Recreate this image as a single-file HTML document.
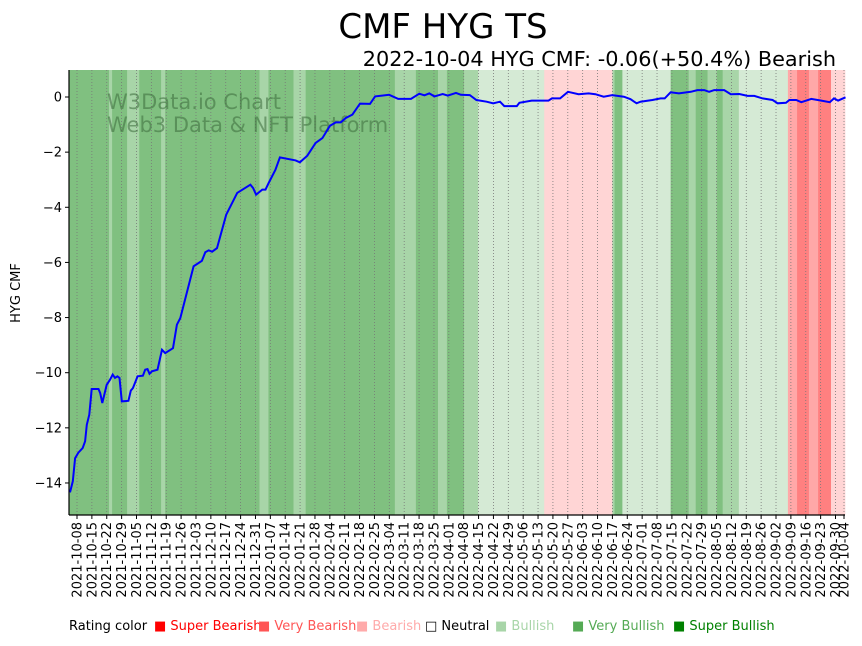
<!DOCTYPE html>
<html><head><meta charset="utf-8"><style>
body{margin:0;background:#fff;width:862px;height:641px;overflow:hidden;font-family:"Liberation Sans","DejaVu Sans",sans-serif}
svg text{font-family:"DejaVu Sans","Liberation Sans",sans-serif}
</style></head><body>
<svg id="chart" width="862" height="641" xmlns="http://www.w3.org/2000/svg">
<text x="443" y="38" font-size="34" text-anchor="middle">CMF HYG TS</text>
<text x="836" y="66" font-size="20.8" text-anchor="end">2022-10-04 HYG CMF: -0.06(+50.4%) Bearish</text>
<g id="bands"></g>
<g id="grid"></g>
<text x="107" y="109" font-size="21" fill="#3a6a3a" fill-opacity="0.55">W3Data.io Chart</text>
<text x="107" y="132" font-size="21" fill="#3a6a3a" fill-opacity="0.55">Web3 Data &amp; NFT Platform</text>
<path id="line" fill="none" stroke="#0000ff" stroke-width="2"/>
<g id="axes"></g>
<text transform="translate(20,293) rotate(-90)" font-size="13" text-anchor="middle">HYG CMF</text>
<g font-size="13">
<text x="69" y="630">Rating color</text>
<text x="154" y="630" fill="#ff0000">■ Super Bearish</text>
<text x="258" y="630" fill="#ff5555">■ Very Bearish</text>
<text x="356" y="630" fill="#ffaaaa">■ Bearish</text>
<text x="425" y="630" fill="#000">□ Neutral</text>
<text x="495" y="630" fill="#a8d5a8">■ Bullish</text>
<text x="572" y="630" fill="#55aa55">■ Very Bullish</text>
<text x="673" y="630" fill="#008000">■ Super Bullish</text>
</g>
</svg>
<script>
const days=[-3.3,-2.0,-0.9,0.6,2.7,3.8,4.6,5.8,6.9,10.1,10.9,11.9,14,15.6,16.8,17.9,19,20,21.1,24.2,25.3,26.3,28.5,31,32.1,33.2,34.1,35.3,37.9,40,41.5,45.2,47,48.6,54.9,58.8,60.4,62,63.6,65.9,70.2,75.4,81.6,82.9,84.3,87.2,88.7,90.3,93.4,95.5,102.9,104.9,108.4,112.3,115.5,119.1,121.8,124.1,126.5,129.6,133.2,137.9,140.3,146.9,151.2,157.2,161.1,163.5,165.8,168.2,172.1,174.5,178.4,180.7,184.9,188,192.8,195.9,199.1,201.1,207,208.2,214,221.9,223.5,227.4,231.1,236.1,240.8,244,247.9,251.9,257.4,260.5,263.4,265.2,270.8,274.7,276.6,279.4,283.3,288.9,292,295.2,297.5,299.9,304.6,307.7,311.7,315.6,318.8,322.7,327.4,329.8,333.7,335.3,338.5,340.9,345.6,350.3,354.3,356.3,358.2,361.7];
const cmf=[-14.34,-13.94,-13.1,-12.9,-12.73,-12.49,-11.89,-11.52,-10.59,-10.59,-10.74,-11.1,-10.44,-10.25,-10.07,-10.19,-10.13,-10.19,-11.04,-11.02,-10.65,-10.56,-10.13,-10.11,-9.89,-9.87,-10.04,-9.95,-9.89,-9.17,-9.29,-9.11,-8.26,-8.02,-6.14,-5.94,-5.63,-5.56,-5.61,-5.48,-4.27,-3.48,-3.18,-3.30,-3.54,-3.36,-3.36,-3.10,-2.64,-2.19,-2.30,-2.37,-2.13,-1.67,-1.49,-1.04,-0.92,-0.92,-0.76,-0.64,-0.24,-0.25,0.02,0.08,-0.07,-0.07,0.12,0.06,0.13,0.02,0.11,0.05,0.15,0.08,0.07,-0.11,-0.17,-0.23,-0.17,-0.33,-0.33,-0.21,-0.13,-0.13,-0.05,-0.05,0.19,0.10,0.13,0.10,0.01,0.07,0.01,-0.08,-0.23,-0.17,-0.11,-0.05,-0.05,0.17,0.13,0.19,0.25,0.25,0.19,0.25,0.25,0.10,0.11,0.04,0.04,-0.05,-0.11,-0.23,-0.21,-0.11,-0.11,-0.19,-0.07,-0.13,-0.19,-0.05,-0.13,-0.01];
const bandEdges=[-3.8,15.1,16.5,23.6,29.3,39.6,41.5,85.9,90.1,101.9,107.6,149.6,159.5,169.9,174.1,182.2,188.8,219.9,252,253,256.7,279.4,287.9,291.2,296.8,301.1,303.9,311.5,334.6,338.9,344.5,348.8,354.9,362.4];
const bandRatings=[3,2,3,2,3,2,3,2,3,2,3,2,3,2,3,2,1,-1,2,3,1,3,2,3,2,3,2,1,-2,-3,-2,-3,-1];
const tickLabels=["2021-10-08","2021-10-15","2021-10-22","2021-10-29","2021-11-05","2021-11-12","2021-11-19","2021-11-26","2021-12-03","2021-12-10","2021-12-17","2021-12-24","2021-12-31","2022-01-07","2022-01-14","2022-01-21","2022-01-28","2022-02-04","2022-02-11","2022-02-18","2022-02-25","2022-03-04","2022-03-11","2022-03-18","2022-03-25","2022-04-01","2022-04-08","2022-04-15","2022-04-22","2022-04-29","2022-05-06","2022-05-13","2022-05-20","2022-05-27","2022-06-03","2022-06-10","2022-06-17","2022-06-24","2022-07-01","2022-07-08","2022-07-15","2022-07-22","2022-07-29","2022-08-05","2022-08-12","2022-08-19","2022-08-26","2022-09-02","2022-09-09","2022-09-16","2022-09-23","2022-09-30","2022-10-04"];
const yTicks=[0,-2,-4,-6,-8,-10,-12,-14];
const colors={"3":"#80c080","2":"#a8d5a8","1":"#d5ead5","-1":"#ffd5d5","-2":"#ffa8a8","-3":"#ff8080"};
const L=69,R=845,T=70,B=515;
const X=d=>77+d*(767/361);
const Y=v=>97-v*27.57;
const NS="http://www.w3.org/2000/svg";
function mk(tag,attrs,parent){const e=document.createElementNS(NS,tag);for(const k in attrs)e.setAttribute(k,attrs[k]);parent.appendChild(e);return e;}
const bands=document.getElementById('bands');
for(let i=0;i<bandRatings.length;i++){
 const x0=Math.max(L,X(bandEdges[i])),x1=Math.min(R,X(bandEdges[i+1]));
 const r=mk('rect',{x:x0,y:T,width:x1-x0+0.3,height:B-T,fill:colors[bandRatings[i]]},bands);
 
 
}
const grid=document.getElementById('grid'),axes=document.getElementById('axes');
const t0=new Date("2021-10-08T00:00:00Z");
tickLabels.forEach(lab=>{
 const d=(new Date(lab+"T00:00:00Z")-t0)/86400000;const x=X(d);
 const g=mk('line',{x1:x,x2:x,y1:T,y2:B,stroke:'#777','stroke-width':0.8,'stroke-dasharray':'1,2'},grid);
 
 
 mk('line',{x1:x,x2:x,y1:B,y2:B+4,stroke:'#000'},axes);
 const t=mk('text',{transform:`translate(${x+4.5},${B+7}) rotate(-90)`,'font-size':13,'text-anchor':'end'},axes);
 t.textContent=lab;
 
 
});
yTicks.forEach(v=>{
 const y=Y(v);
 mk('line',{x1:L-4,x2:L,y1:y,y2:y,stroke:'#000'},axes);
 const t=mk('text',{x:L-7,y:y+4.5,'font-size':13,'text-anchor':'end'},axes);
 t.textContent=v<0?'\u2212'+Math.abs(v):String(v);
 
 
});
mk('line',{x1:L,x2:L,y1:T,y2:B,stroke:'#000','stroke-width':1.2},axes);
mk('line',{x1:L,x2:R,y1:B,y2:B,stroke:'#000','stroke-width':1.2},axes);
document.getElementById('line').setAttribute('d',days.map((d,i)=>(i?'L':'M')+X(d).toFixed(1)+','+Y(cmf[i]).toFixed(1)).join(''));
</script>
</body></html>
